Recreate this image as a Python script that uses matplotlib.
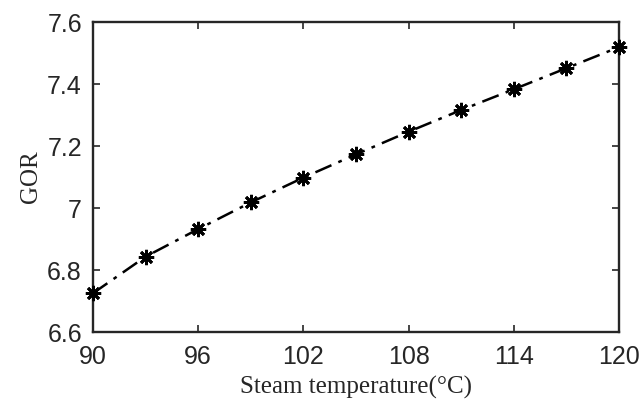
import matplotlib
matplotlib.use("Agg")
import matplotlib.pyplot as plt

temperature = [90, 93, 96, 99, 102, 105, 108, 111, 114, 117, 120]
gor = [6.725, 6.843, 6.932, 7.018, 7.098, 7.173, 7.246, 7.316, 7.383, 7.451, 7.519]
xticks = [90, 96, 102, 108, 114, 120]
yticks = [6.6, 6.8, 7.0, 7.2, 7.4, 7.6]
yticklabels = ["6.6", "6.8", "7", "7.2", "7.4", "7.6"]

fig = plt.figure(figsize=(6.41, 4.05), dpi=100)
ax = fig.add_axes([93/641, 1 - 332/405, (619-93)/641, (332-22)/405])

ax.plot(temperature, gor, linestyle="-.", color="black", linewidth=1.8,
        marker=(8, 2, 0), markersize=11, markeredgewidth=2.0,
        markeredgecolor="black", dashes=(7, 3, 1.5, 3), clip_on=False, zorder=3)

ax.set_xlim(90, 120)
ax.set_ylim(6.6, 7.6)
ax.set_xticks(xticks)
ax.set_yticks(yticks)
ax.set_yticklabels(yticklabels)
for lab in ax.get_xticklabels() + ax.get_yticklabels():
    lab.set_fontfamily("Liberation Sans")
    lab.set_fontsize(18)
    lab.set_color("#262626")
ax.tick_params(direction="in", length=5, width=1.2, top=True, right=True,
               colors="#262626")
ax.tick_params(axis="x", pad=9)
ax.tick_params(axis="y", pad=8)
for s in ax.spines.values():
    s.set_linewidth(1.7)
    s.set_color("#262626")

ax.set_xlabel("Steam temperature(\u00b0C)", fontfamily="Liberation Serif", fontsize=18,
              color="#262626", labelpad=5)
ax.set_ylabel("GOR", fontfamily="Liberation Serif", fontsize=18, color="#262626",
              labelpad=4)

fig.savefig("out.png", dpi=100)
